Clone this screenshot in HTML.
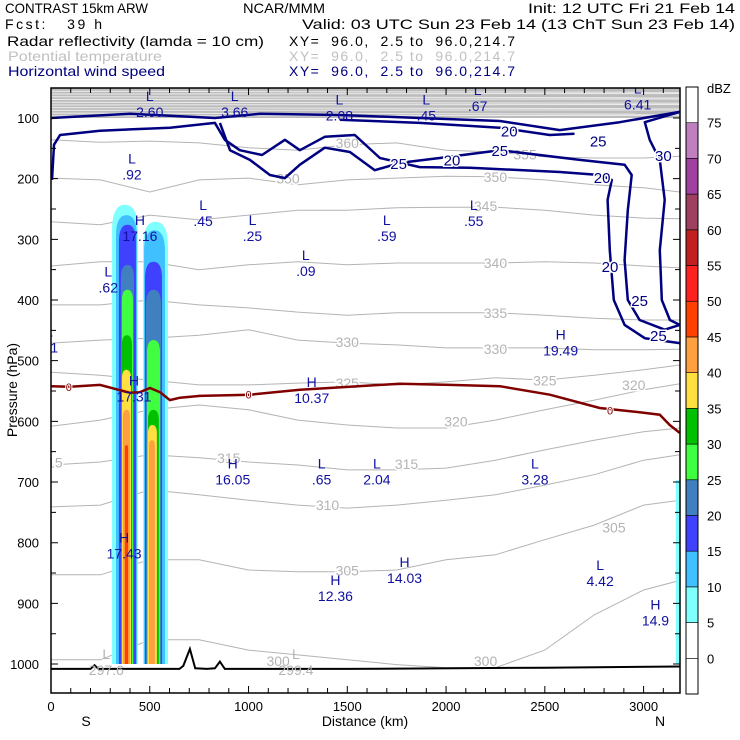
<!DOCTYPE html>
<html><head><meta charset="utf-8"><style>
html,body{margin:0;padding:0;background:#fff;}
svg{display:block;font-family:"Liberation Sans",sans-serif;}
#header text{white-space:pre;}
</style></head><body>
<svg id="chart" width="740" height="740" viewBox="0 0 740 740" xmlns="http://www.w3.org/2000/svg">
<g id="header" font-size="14" xml:space="preserve">
<text x="5" y="13" textLength="143" lengthAdjust="spacingAndGlyphs">CONTRAST 15km ARW</text>
<text x="243" y="13" textLength="82" lengthAdjust="spacingAndGlyphs">NCAR/MMM</text>
<text x="528" y="13" textLength="207" lengthAdjust="spacingAndGlyphs">Init: 12 UTC Fri 21 Feb 14</text>
<text x="5" y="29" textLength="97" lengthAdjust="spacing">Fcst:   39 h</text>
<text x="302" y="29" textLength="433" lengthAdjust="spacingAndGlyphs">Valid: 03 UTC Sun 23 Feb 14 (13 ChT Sun 23 Feb 14)</text>
<text x="7" y="46" textLength="257" lengthAdjust="spacingAndGlyphs">Radar reflectivity (lamda = 10 cm)</text>
<text x="289" y="46" textLength="226" lengthAdjust="spacing">XY=  96.0,  2.5 to  96.0,214.7</text>
<text x="8" y="61" fill="#c0c0c0" textLength="154" lengthAdjust="spacingAndGlyphs">Potential temperature</text>
<text x="289" y="61" fill="#c0c0c0" textLength="226" lengthAdjust="spacing">XY=  96.0,  2.5 to  96.0,214.7</text>
<text x="8" y="76" fill="#000080" textLength="157" lengthAdjust="spacingAndGlyphs">Horizontal wind speed</text>
<text x="289" y="76" fill="#000080" textLength="226" lengthAdjust="spacing">XY=  96.0,  2.5 to  96.0,214.7</text>
</g>
<defs><clipPath id="plotclip"><rect x="51" y="88" width="629" height="605"/></clipPath></defs>
<g id="plot" clip-path="url(#plotclip)"></g>
<g id="axes"></g>
<g id="cbar"></g>
</svg>
<script>
// ---- data ----
const pTicks=[100,200,300,400,500,600,700,800,900,1000];
const xTicks=[0,500,1000,1500,2000,2500,3000];
const thetaKm=[0,250,500,750,1000,1250,1500,1750,2000,2250,2500,2750,3000,3187];
const thetaLevels=[355,350,345,340,335,330,325,320,315,310,305,300];
const theta355=[136,140,138,141,149,153,144,141,153,156,164,166,166,163];
const theta350=[199,202,222,202,199,210,202,199,196,197,202,210,215,222];
const theta345=[271,276,260,268,260,252,252,248,247,247,252,260,265,266];
const theta340=[344,337,337,350,342,337,342,339,339,339,337,339,344,347];
const theta335=[408,408,400,408,413,420,425,421,421,421,425,430,433,433];
const theta330=[471,466,463,458,449,466,471,474,479,479,479,482,482,481];
const theta325=[519,524,532,540,540,537,535,540,535,528,532,524,515,507];
const theta320=[608,598,581,573,581,598,606,611,611,598,581,565,548,538];
const theta315=[672,667,655,660,667,672,680,680,677,664,647,631,617,611];
const theta310=[741,738,713,721,730,738,743,738,730,721,705,688,664,655];
const theta305=[853,853,828,828,845,848,848,845,828,820,795,771,738,730];
const theta300=[993,993,960,960,977,985,993,1001,1006,1006,977,919,878,862];
const thetaLines=[theta355,theta350,theta345,theta340,theta335,theta330,theta325,theta320,theta315,theta310,theta305,theta300];
const thetaLabels=[[1500,141,"360"],[2400,160,"355"],[1200,200,"350"],[2250,197,"350"],[2200,245,"345"],[2250,339,"340"],[2250,421,"335"],[1500,469,"330"],[2250,481,"330"],[1500,537,"325"],[2500,533,"325"],[2050,600,"320"],[2950,540,"320"],[0,668,"315"],[900,660,"315"],[1800,670,"315"],[1400,738,"310"],[1500,846,"305"],[2850,775,"305"],[2200,995,"300"],[1150,995,"300"]];
const windLevels=[20,25,30,20,25];
const wind1=[[5,202],[15,144],[46,128],[248,121],[602,116],[830,108],[880,136],[956,153],[1068,161],[1184,136],[1260,153],[1386,131],[1538,128],[1665,166],[1867,181],[2120,182],[2576,189],[2778,194],[2839,202],[2818,235],[2829,318],[2849,400],[2904,441],[3006,463],[3183,471]];
const wind2=[[855,108],[906,153],[1007,169],[1108,194],[1184,199],[1260,177],[1386,149],[1513,156],[1639,186],[1766,174],[1968,166],[2272,153],[2677,169],[2904,177],[2940,194],[2920,252],[2904,334],[2920,400],[2980,433],[3107,449],[3183,441]];
const wind3=[[3183,90],[3006,107],[3031,136],[3082,169],[3107,235],[3082,318],[3092,400],[3133,433],[3183,441]];
const wind4=[[0,100],[400,93],[830,100],[1058,93],[1462,95],[1867,100],[2272,105],[2576,120],[2879,107],[3183,90]];
const wind5=[[1462,103],[1867,108],[2272,116],[2525,128],[2650,126]];
const windLines=[wind1,wind2,wind3,wind4,wind5];
const windLabels=[[1760,174,"25"],[2272,153,"25"],[2770,137,"25"],[2980,400,"25"],[3075,458,"25"],[2030,168,"20"],[2320,121,"20"],[2790,197,"20"],[2830,344,"20"],[3100,161,"30"]];
const frzKm=[0,96,248,400,450,501,552,602,653,754,1007,1260,1513,1766,2019,2272,2525,2778,2980,3082,3132,3183];
const frzP=[542,543,540,553,552,545,552,565,561,558,556,548,543,538,540,542,556,578,585,589,606,619];
const terrKm=[0,200,220,240,600,650,670,703,730,790,830,855,880,1500,2500,3187];
const terrP=[1008,1008,1002,1008,1008,1008,1003,975,1007,1008,1007,996,1008,1008,1006,1004];
const dbzLevels=[5,10,15,20,25,30,35,40,45];
const colAleft=[309,329,344,354,359,359,359,364,374];
const colAright=[440,435,430,420,415,410,405,400,390];
const colAtop=[243,260,276,342,383,458,515,581,639];
const colBleft=[466,471,476,481,486,491,491,496,null];
const colBright=[592,577,562,557,552,546,536,526,null];
const colBtop=[271,285,337,383,466,581,606,631,null];
const stripLeft=[3163], stripRight=[3190], stripTop=[697];
const hlText=[["L","2.60",500,72],["L","3.66",930,72],["L","2.08",1460,78],["L",".45",1900,78],["L",".67",2160,62],["L","6.41",2970,60],["L",".92",410,175],["H","17.16",450,276],["L",".45",770,252],["L",".25",1020,276],["L",".59",1700,276],["L",".55",2140,252],["L",".09",1290,334],["L",".62",290,361],["L",".11",-10,460],["H","19.49",2580,465],["H","10.37",1320,543],["H","17.31",420,541],["H","16.05",920,678],["L",".65",1370,678],["L","2.04",1650,678],["L","3.28",2450,678],["H","17.43",370,800],["H","14.03",1790,840],["H","12.36",1440,870],["L","4.42",2780,845],["H","14.9",3060,910]];
const hlGray=[["L","297.6",280,992],["L","299.4",1240,992]];
const cbLevels=[0,5,10,15,20,25,30,35,40,45,50,55,60,65,70,75];
const cbColors=["#ffffff","#ffffff","#80ffff","#40c0ff","#4040ff","#4080c0","#40ff40","#00c000","#ffe040","#ffa040","#ff4000","#ff2020","#c02020","#a04060","#a040a0","#c080c0","#ffffff"];
// ---- scales ----
const X0=51,X1=680,Y0=88,Y1=693;
function sx(km){return X0+km*0.19753;}
function sy(p){return 118+(p-100)*0.6067;}
const NS="http://www.w3.org/2000/svg";
function mk(tag,attrs,parent){const e=document.createElementNS(NS,tag);for(const k in attrs)e.setAttribute(k,attrs[k]);parent.appendChild(e);return e;}
const plot=document.getElementById('plot'),axes=document.getElementById('axes'),cbar=document.getElementById('cbar');
function dbzColor(v){return cbColors[cbLevels.indexOf(v)+1];}
let band=mk('rect',{x:X0,y:Y0,width:X1-X0,height:sy(100)-Y0,fill:'#bcbcbc'},plot);


for(let p=56;p<100;p+=4.5){let l=mk('path',{d:'M'+X0+' '+sy(p)+' L'+X1+' '+(sy(p)+((p*7)%3-1)),stroke:'#ececec','stroke-width':1,fill:'none'},plot);

}
thetaLines.forEach((arr,i)=>{let d=arr.map((p,j)=>(j?'L':'M')+sx(thetaKm[j]).toFixed(1)+' '+sy(p).toFixed(1)).join(' ');
let l=mk('path',{d:d,stroke:'#b4b4b4','stroke-width':1,fill:'none'},plot);

});
function col(lk,rk,tp,lev){let x1=sx(lk),x2=sx(rk),yt=sy(tp),yb=sy(1000);let w=x2-x1;
let d=`M${x1} ${yb} L${x1} ${yt+w} Q${x1} ${yt} ${(x1+x2)/2} ${yt} Q${x2} ${yt} ${x2} ${yt+w} L${x2} ${yb} Z`;
return mk('path',{d:d,fill:dbzColor(lev)},plot);}
dbzLevels.forEach((lev,i)=>{let e=col(colAleft[i],colAright[i],colAtop[i],lev);


if(colBleft[i]!==null){let f=col(colBleft[i],colBright[i],colBtop[i],lev);

}});
let st=mk('rect',{x:sx(stripLeft[0]),y:sy(stripTop[0]),width:sx(stripRight[0])-sx(stripLeft[0]),height:sy(1000)-sy(stripTop[0]),fill:dbzColor(5)},plot);


thetaLabels.forEach(t=>{let g=mk('text',{x:sx(t[0]),y:sy(t[1])+5,'font-size':14,fill:'#b4b4b4','text-anchor':'middle',stroke:'#fff','stroke-width':3,'paint-order':'stroke'},plot);g.textContent=t[2];

});
windLines.forEach((arr,i)=>{let d=arr.map((pt,j)=>(j?'L':'M')+sx(pt[0]).toFixed(1)+' '+sy(pt[1]).toFixed(1)).join(' ');
let l=mk('path',{d:d,stroke:'#000080','stroke-width':2.5,fill:'none','stroke-linejoin':'round'},plot);

});
windLabels.forEach(t=>{let g=mk('text',{x:sx(t[0]),y:sy(t[1])+6,'font-size':15,fill:'#000080','text-anchor':'middle',stroke:'#fff','stroke-width':3,'paint-order':'stroke'},plot);g.textContent=t[2];

});
let fz=mk('path',{d:frzKm.map((k,j)=>(j?'L':'M')+sx(k).toFixed(1)+' '+sy(frzP[j]).toFixed(1)).join(' '),stroke:'#800000','stroke-width':2.5,fill:'none'},plot);


[[90,543],[1000,556],[2830,582]].forEach(t=>{let g=mk('text',{x:sx(t[0]),y:sy(t[1])+4,'font-size':11,fill:'#800000','text-anchor':'middle',stroke:'#fff','stroke-width':2,'paint-order':'stroke'},plot);g.textContent='0';

});
let tr=mk('path',{d:terrKm.map((k,j)=>(j?'L':'M')+sx(k).toFixed(1)+' '+sy(terrP[j]).toFixed(1)).join(' '),stroke:'#000','stroke-width':2,fill:'none'},plot);


function hl(arr,color,nm){arr.forEach(t=>{let x=sx(t[2]),y=sy(t[3]);
let a=mk('text',{x:x,y:y,'font-size':14,fill:color,'text-anchor':'middle'},plot);a.textContent=t[0];


let b=mk('text',{x:x,y:y+16,'font-size':14,fill:color,'text-anchor':'middle'},plot);b.textContent=t[1];

});}
hl(hlText,'#1010a0','extremum');hl(hlGray,'#b4b4b4','theta-extremum');
let fr=mk('rect',{x:X0,y:Y0,width:X1-X0,height:Y1-Y0,fill:'none',stroke:'#000','stroke-width':1.5},axes);


for(let p=50;p<=1040;p+=50){let y=sy(p);if(y<Y0||y>Y1)continue;let len=(p%100===0)?7:5;
let t=mk('path',{d:`M${X0} ${y} L${X0+len} ${y} M${X1} ${y} L${X1-len} ${y}`,stroke:'#000','stroke-width':1},axes);

}
pTicks.forEach(p=>{let t=mk('text',{x:X0-12,y:sy(p)+5,'font-size':13,'text-anchor':'end'},axes);t.textContent=p;

});
for(let k=0;k<=3187;k+=100){let x=sx(k);let len=(k%500===0)?7:5;
let t=mk('path',{d:`M${x} ${Y1} L${x} ${Y1-len} M${x} ${Y0} L${x} ${Y0+len}`,stroke:'#000','stroke-width':1},axes);

}
xTicks.forEach(k=>{let t=mk('text',{x:sx(k),y:711,'font-size':13,'text-anchor':'middle'},axes);t.textContent=k;

});
let xl=mk('text',{x:365,y:726,'font-size':14,'text-anchor':'middle'},axes);xl.textContent='Distance (km)';


let sL=mk('text',{x:86,y:726,'font-size':14,'text-anchor':'middle'},axes);sL.textContent='S';


let nL=mk('text',{x:660,y:726,'font-size':14,'text-anchor':'middle'},axes);nL.textContent='N';


let yl=mk('text',{x:0,y:0,'font-size':14,'text-anchor':'middle',transform:'translate(17,390) rotate(-90)'},axes);yl.textContent='Pressure (hPa)';


const cbTop=87,cbBot=694,cbX=686,cbW=12,segH=(cbBot-cbTop)/cbColors.length;
cbColors.forEach((c,i)=>{let y=cbBot-(i+1)*segH;let r=mk('rect',{x:cbX,y:y,width:cbW,height:segH,fill:c,stroke:'#000','stroke-width':0.6},cbar);

});
let cbf=mk('rect',{x:cbX,y:cbTop,width:cbW,height:cbBot-cbTop,fill:'none',stroke:'#000','stroke-width':1},cbar);


cbLevels.forEach((v,i)=>{let y=cbBot-(i+1)*segH;let t=mk('text',{x:707,y:y+5,'font-size':13},cbar);t.textContent=v;

});
let un=mk('text',{x:707,y:93,'font-size':13},cbar);un.textContent='dBZ';


</script>
</body></html>
